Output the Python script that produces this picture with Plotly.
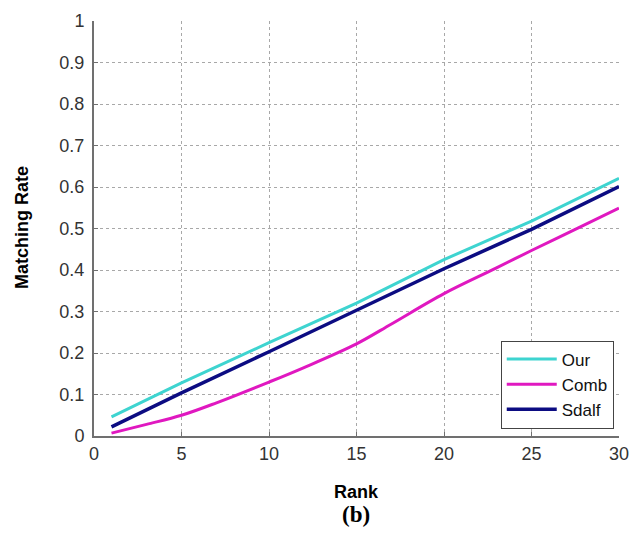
import plotly.graph_objects as go

rank_our = [1, 5, 10, 15, 20, 25, 30]
our = [0.046, 0.128, 0.225, 0.32, 0.425, 0.518, 0.621]

rank_comb = [1, 3, 5, 7, 10, 12, 15, 17, 20, 23, 25, 28, 30]
comb = [0.007, 0.028, 0.05, 0.08, 0.13, 0.165, 0.222, 0.27, 0.343, 0.405, 0.447, 0.508, 0.549]

rank_sdalf = [1, 5, 10, 15, 20, 25, 30]
sdalf = [0.022, 0.104, 0.203, 0.302, 0.403, 0.498, 0.601]

x_ticks = [0, 5, 10, 15, 20, 25, 30]
y_ticks = [0, 0.1, 0.2, 0.3, 0.4, 0.5, 0.6, 0.7, 0.8, 0.9, 1]
y_tick_text = ["0", "0.1", "0.2", "0.3", "0.4", "0.5", "0.6", "0.7", "0.8", "0.9", "1"]

fig = go.Figure()
fig.add_trace(go.Scatter(x=rank_our, y=our, mode="lines", name="Our",
                         line=dict(color="#3ed4d0", width=3)))
fig.add_trace(go.Scatter(x=rank_comb, y=comb, mode="lines", name="Comb",
                         line=dict(color="#e018c0", width=3, shape="spline", smoothing=1.0)))
fig.add_trace(go.Scatter(x=rank_sdalf, y=sdalf, mode="lines", name="Sdalf",
                         line=dict(color="#0c0c82", width=3.5)))

axis_common = dict(showgrid=True, gridcolor="#a8a8a8", griddash="dot", gridwidth=1,
                   zeroline=False, showline=True, linecolor="#707070", linewidth=2,
                   ticks="inside", ticklen=4, tickcolor="#707070", automargin=False,
                   tickfont=dict(family="Liberation Sans, Arial", size=18, color="#333333"),
                   mirror=False)

fig.update_xaxes(range=[0, 30], tickvals=x_ticks, **axis_common)
fig.update_yaxes(range=[0, 1], tickvals=y_ticks, ticktext=y_tick_text,
                 ticklabelstandoff=4, **axis_common)

W, H = 633, 533
l, r, t, b = 94, 14, 21, 97
pw, ph = W - l - r, H - t - b


def px_to_paper(px, py):
    return (px - l) / pw, (H - b - py) / ph


ax0, ay0 = px_to_paper(22, 228)
ax1, ay1 = px_to_paper(356, 492)
ax2, ay2 = px_to_paper(356, 514)

fig.update_layout(
    width=W, height=H,
    margin=dict(l=l, r=r, t=t, b=b),
    plot_bgcolor="white", paper_bgcolor="white",
    showlegend=True,
    legend=dict(x=0.99, y=0.018, xanchor="right", yanchor="bottom",
                bgcolor="white", bordercolor="#444444", borderwidth=1,
                font=dict(family="Liberation Sans, Arial", size=17, color="#111111"),
                itemwidth=50, tracegroupgap=0),
    annotations=[
        dict(text="<b>Matching Rate</b>", x=ax0, y=ay0, xref="paper", yref="paper",
             xanchor="center", yanchor="middle", showarrow=False, textangle=-90,
             font=dict(family="Liberation Sans, Arial", size=18, color="black")),
        dict(text="<b>Rank</b>", x=ax1, y=ay1, xref="paper", yref="paper",
             xanchor="center", yanchor="middle", showarrow=False,
             font=dict(family="Liberation Sans, Arial", size=18, color="black")),
        dict(text="<b>(b)</b>", x=ax2, y=ay2, xref="paper", yref="paper",
             xanchor="center", yanchor="middle", showarrow=False,
             font=dict(family="Liberation Serif, Times New Roman", size=23, color="black")),
    ],
)

fig.write_html(
    "out.html",
    config={"displayModeBar": False},
    post_script="document.body.style.margin='0';document.body.style.overflow='hidden';",
)
